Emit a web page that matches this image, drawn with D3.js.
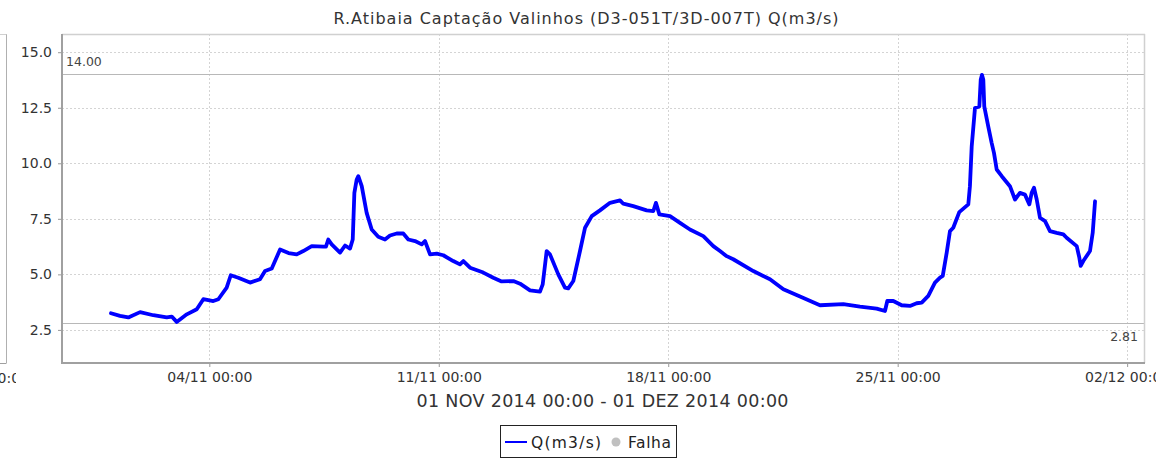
<!DOCTYPE html>
<html><head><meta charset="utf-8">
<script src="https://cdn.jsdelivr.net/npm/d3@7"></script>
<style>
body{margin:0;background:#fff;}
svg{display:block;font-family:"DejaVu Sans",sans-serif;}
</style>
</head><body><svg id="c" width="1175" height="459"></svg>
<script>
const chartTitle = "R.Atibaia Captação Valinhos (D3-051T/3D-007T) Q(m3/s)";
const subtitle = "01 NOV 2014 00:00 - 01 DEZ 2014 00:00";
const seriesName = "Q(m3/s)";
const failName = "Falha";
const startTime = "2014-11-01T00:00:00";
const hoursFromStart = [0,6.6,12.7,21.3,31,40.8,44.5,48.1,55.5,62.8,67.6,74.9,78.6,84.7,87.7,93.2,101.8,109.1,112.8,117.7,123.8,130,136,140.8,147,155.5,157.4,159.1,161.6,167.7,171.4,175,177,178.2,179.9,181.1,183.6,187.2,190.9,195.7,200.6,204.3,209.2,214,217.7,222.6,227.5,229.9,233.6,238.5,243.3,250.6,255.5,258,262.9,272.6,279.9,286,294.6,299.5,306.8,314.1,316.1,319,321.4,327.5,332.4,334.8,338.5,343.4,347.1,352,358,365.4,372.7,375.1,382.4,392.2,397.1,399,401.5,409.3,416.6,423.9,433.7,441,445.9,450.8,455.6,470.3,482.5,492.3,504.5,519.1,536.2,548.4,560.6,566.7,568.4,572.8,578.9,585,589.9,593.6,598.4,603.3,607,609,611.9,614.3,616.7,621.1,627.7,628.9,630.2,632.6,635.8,636.8,637.7,638.7,639.4,642.3,644.8,646.5,648.5,652.2,658.2,661.9,665.5,669.2,672.4,674.1,675.8,677.8,680.2,683.9,687.5,692.4,697.3,699.7,707.1,709,710,711.9,716.8,718.8,720.5];
const flow = [3.25,3.13,3.06,3.3,3.16,3.06,3.1,2.86,3.2,3.43,3.88,3.8,3.88,4.4,4.96,4.85,4.63,4.78,5.15,5.26,6.12,5.96,5.9,6.05,6.27,6.25,6.25,6.57,6.35,5.98,6.3,6.16,6.57,8.67,9.27,9.42,8.97,7.77,7.02,6.69,6.57,6.75,6.84,6.84,6.57,6.5,6.35,6.5,5.9,5.93,5.86,5.6,5.45,5.6,5.3,5.08,4.85,4.68,4.7,4.58,4.28,4.22,4.55,6.05,5.9,5.0,4.4,4.37,4.7,6.05,7.1,7.62,7.88,8.22,8.33,8.18,8.07,7.88,7.85,8.22,7.7,7.62,7.32,7.02,6.72,6.27,6.05,5.82,5.68,5.15,4.78,4.33,4.0,3.61,3.66,3.55,3.46,3.35,3.8,3.8,3.61,3.58,3.7,3.73,4.03,4.63,4.85,4.93,5.98,6.95,7.1,7.8,8.15,8.97,10.76,12.49,12.56,13.76,13.98,13.76,12.56,11.66,10.92,10.47,9.72,9.42,8.97,8.37,8.67,8.59,8.15,8.67,8.9,8.37,7.55,7.4,6.95,6.87,6.8,6.65,6.27,5.75,5.38,5.6,6.05,6.87,8.29];
const thresholds = [14.00, 2.81];
const yTicks = [2.5, 5.0, 7.5, 10.0, 12.5, 15.0];
const xTickTimes = ["2014-11-04T00:00:00","2014-11-11T00:00:00","2014-11-18T00:00:00","2014-11-25T00:00:00","2014-12-02T00:00:00"];
const xDomain = ["2014-10-30T12:08:00","2014-12-02T13:05:00"];
const yDomain = [1.01, 15.82];

const svg = d3.select("#c");
const L = 62, R = 1145, T = 34, B = 363;
const t0 = new Date(startTime);
const data = hoursFromStart.map((h,i)=>({t:new Date(t0.getTime()+h*3600e3), v:flow[i]}));
const x = d3.scaleTime().domain(xDomain.map(s=>new Date(s))).range([L,R]);
const y = d3.scaleLinear().domain(yDomain).range([B,T]);
const xt = xTickTimes.map(s=>new Date(s));

// neighbouring panel fragment at the far left
svg.append("line").attr("x1",6.5).attr("x2",6.5).attr("y1",T).attr("y2",B).attr("stroke","#b0b0b0");
svg.append("line").attr("x1",0).attr("x2",6.5).attr("y1",T+0.5).attr("y2",T+0.5).attr("stroke","#d0d0d0");
svg.append("line").attr("x1",0).attr("x2",6.5).attr("y1",B+0.5).attr("y2",B+0.5).attr("stroke","#a0a0a0");
svg.append("defs").html('<clipPath id="lc"><rect x="0" y="0" width="16" height="459"/></clipPath><clipPath id="rc"><rect x="0" y="0" width="1156" height="459"/></clipPath>');
svg.append("text").attr("clip-path","url(#lc)").attr("x",29).attr("y",383).attr("text-anchor","end")
  .attr("font-size",14).attr("fill","#333").text("00:00");

// title
svg.append("text").attr("x",586).attr("y",24).attr("text-anchor","middle").attr("font-size",16)
  .attr("textLength",505).attr("lengthAdjust","spacing").attr("fill","#333").text(chartTitle);

// grid
const g = svg.append("g");
g.selectAll(".gy").data(yTicks).join("line").attr("x1",L).attr("x2",R)
  .attr("y1",d=>Math.round(y(d))+0.5).attr("y2",d=>Math.round(y(d))+0.5)
  .attr("stroke","#d4d4d4").attr("stroke-dasharray","2,2");
g.selectAll(".gx").data(xt).join("line").attr("y1",T).attr("y2",B)
  .attr("x1",d=>Math.round(x(d))+0.5).attr("x2",d=>Math.round(x(d))+0.5)
  .attr("stroke","#d4d4d4").attr("stroke-dasharray","2,2");

// thresholds
g.selectAll(".th").data(thresholds).join("line").attr("x1",L).attr("x2",R)
  .attr("y1",d=>Math.round(y(d))+0.5).attr("y2",d=>Math.round(y(d))+0.5)
  .attr("stroke","#b8b8b8").attr("stroke-width",1.2);
svg.append("text").attr("x",L+4).attr("y",y(thresholds[0])-8.5).attr("font-size",12.5).attr("fill","#444")
  .text(d3.format(".2f")(thresholds[0]));
svg.append("text").attr("x",R-7).attr("y",y(thresholds[1])+18).attr("text-anchor","end").attr("font-size",12.5).attr("fill","#444")
  .text(d3.format(".2f")(thresholds[1]));

// series
const line = d3.line().x(d=>x(d.t)).y(d=>y(d.v));
svg.append("path").datum(data).attr("d",line).attr("fill","none").attr("stroke","#0000ff")
  .attr("stroke-width",3.8).attr("stroke-linejoin","round").attr("stroke-linecap","round");

// frame
svg.append("line").attr("x1",L).attr("x2",R).attr("y1",T+0.5).attr("y2",T+0.5).attr("stroke","#d0d0d0").attr("stroke-width",1.5);
svg.append("line").attr("x1",R-0.5).attr("x2",R-0.5).attr("y1",T).attr("y2",B).attr("stroke","#d0d0d0").attr("stroke-width",1.5);

// axes
const ay = svg.append("g").attr("transform",`translate(${L},0)`)
  .call(d3.axisLeft(y).tickValues(yTicks).tickFormat(d3.format(".1f")).tickSize(4).tickPadding(6));
const ax = svg.append("g").attr("clip-path","url(#rc)").append("g").attr("transform",`translate(0,${B})`)
  .call(d3.axisBottom(x).tickValues(xt).tickFormat(d3.timeFormat("%d/%m %H:%M")).tickSize(4).tickPadding(5));
[ay,ax].forEach(a=>{
  a.select(".domain").remove();
  a.selectAll(".tick line").attr("stroke","#999");
  a.selectAll(".tick text").attr("font-family","DejaVu Sans").attr("font-size",14).attr("fill","#333");
});
svg.append("line").attr("x1",L).attr("x2",L).attr("y1",T).attr("y2",B+1).attr("stroke","#a0a0a0").attr("stroke-width",2);
svg.append("line").attr("x1",L-1).attr("x2",R).attr("y1",B).attr("y2",B).attr("stroke","#a0a0a0").attr("stroke-width",2);

// subtitle
svg.append("text").attr("x",602.5).attr("y",407).attr("text-anchor","middle").attr("font-size",17.5)
  .attr("textLength",372).attr("lengthAdjust","spacing").attr("fill","#333").text(subtitle);

// legend
const lg = svg.append("g");
lg.append("rect").attr("x",500.5).attr("y",425.5).attr("width",176).attr("height",32).attr("fill","#fff").attr("stroke","#222");
lg.append("line").attr("x1",505).attr("x2",527).attr("y1",442).attr("y2",442).attr("stroke","#0000ff").attr("stroke-width",2);
lg.append("text").attr("x",531).attr("y",447.5).attr("font-size",15.5).attr("textLength",70).attr("lengthAdjust","spacing")
  .attr("fill","#222").text(seriesName);
lg.append("circle").attr("cx",616).attr("cy",442).attr("r",4.5).attr("fill","#c0c0c0");
lg.append("text").attr("x",628).attr("y",447.5).attr("font-size",15.5).attr("textLength",43).attr("lengthAdjust","spacing")
  .attr("fill","#222").text(failName);
</script>
</body></html>
